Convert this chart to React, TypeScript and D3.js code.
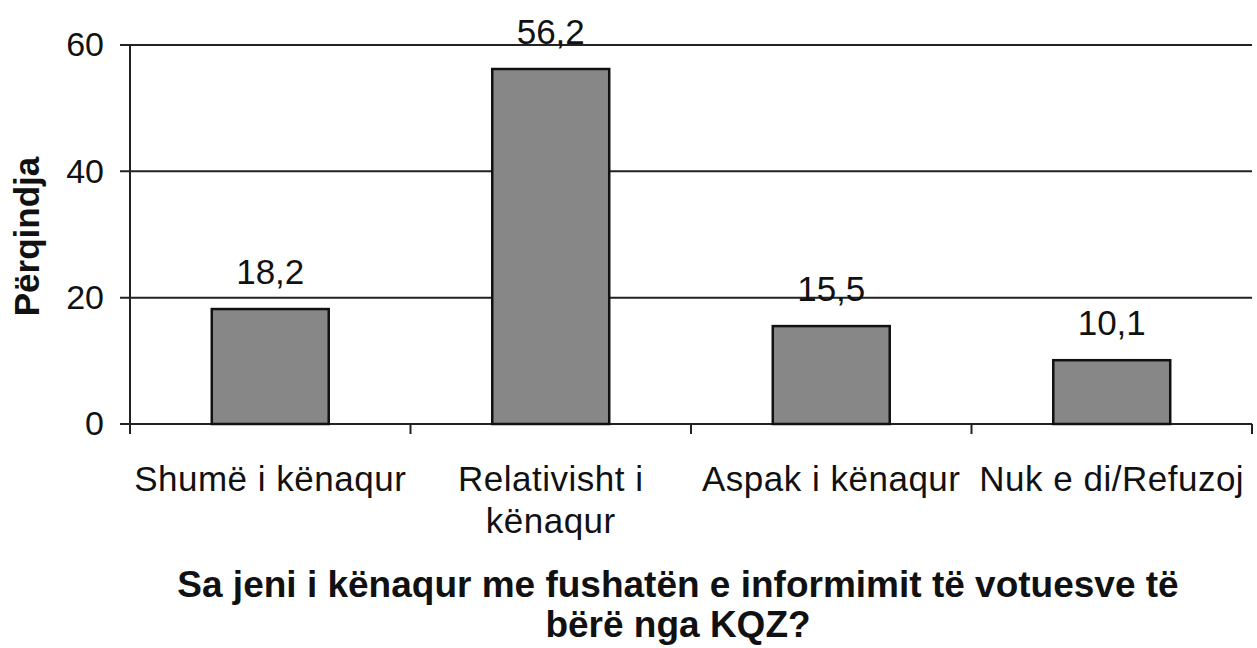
import React, { useEffect, useRef } from 'react';
import * as d3 from 'd3';

const categories = [
  ['Shumë i kënaqur'],
  ['Relativisht i', 'kënaqur'],
  ['Aspak i kënaqur'],
  ['Nuk e di/Refuzoj'],
];
const values = [18.2, 56.2, 15.5, 10.1];
const valueLabels = ['18,2', '56,2', '15,5', '10,1'];
const yTicks = [0, 20, 40, 60];
const yTitle = 'Përqindja';
const xTitle = ['Sa jeni i kënaqur me fushatën e informimit të votuesve të', 'bërë nga KQZ?'];

const FONT = '"Liberation Sans", Arial, sans-serif';

const App = () => {
  const ref = useRef<SVGSVGElement>(null);

  useEffect(() => {
    if (!ref.current) return;
    const width = 1257, height = 648;
    const left = 130, right = 1252, top = 45, bottom = 424;

    const svg = d3.select(ref.current);
    svg.selectAll('*').remove();
    svg.attr('width', width).attr('height', height);

    svg.append('rect').attr('width', width).attr('height', height).attr('fill', '#fff');

    const keys = categories.map((_, i) => String(i));
    const x = d3.scaleBand<string>()
      .domain(keys)
      .range([left, right])
      .paddingInner(0.583)
      .paddingOuter(0.2915);

    const y = d3.scaleLinear().domain([0, 60]).range([bottom, top]);

    // gridlines + y ticks
    svg.append('g')
      .selectAll('line')
      .data(yTicks)
      .enter().append('line')
      .attr('x1', left - 10)
      .attr('x2', right)
      .attr('y1', d => y(d))
      .attr('y2', d => y(d))
      .attr('stroke', '#222')
      .attr('stroke-width', 2);

    svg.append('g')
      .selectAll('text')
      .data(yTicks)
      .enter().append('text')
      .attr('x', left - 26)
      .attr('y', d => y(d))
      .attr('dy', '0.33em')
      .attr('text-anchor', 'end')
      .style('font-family', FONT)
      .style('font-size', '34px')
      .attr('fill', '#111')
      .text(d => d);

    // y axis line
    svg.append('line')
      .attr('x1', left).attr('x2', left)
      .attr('y1', top).attr('y2', bottom + 10)
      .attr('stroke', '#222').attr('stroke-width', 2);

    // category boundary ticks
    const step = x.step();
    const bounds = keys.map(k => (x(k) as number) + x.bandwidth() / 2 - step / 2);
    bounds.push(bounds[bounds.length - 1] + step);
    svg.append('g')
      .selectAll('line')
      .data(bounds)
      .enter().append('line')
      .attr('x1', d => d).attr('x2', d => d)
      .attr('y1', bottom).attr('y2', bottom + 10)
      .attr('stroke', '#222').attr('stroke-width', 2);

    // bars
    svg.append('g')
      .selectAll('rect')
      .data(values)
      .enter().append('rect')
      .attr('x', (_, i) => x(keys[i]) as number)
      .attr('y', d => y(d))
      .attr('width', x.bandwidth())
      .attr('height', d => bottom - y(d))
      .attr('fill', '#878787')
      .attr('stroke', '#111')
      .attr('stroke-width', 2.5);

    // value labels
    svg.append('g')
      .selectAll('text')
      .data(values)
      .enter().append('text')
      .attr('x', (_, i) => (x(keys[i]) as number) + x.bandwidth() / 2)
      .attr('y', d => y(d) - 25)
      .attr('text-anchor', 'middle')
      .style('font-family', FONT)
      .style('font-size', '35px')
      .attr('fill', '#111')
      .text((_, i) => valueLabels[i]);

    // category labels
    const cat = svg.append('g')
      .selectAll('text')
      .data(categories)
      .enter().append('text')
      .attr('x', (_, i) => (x(keys[i]) as number) + x.bandwidth() / 2)
      .attr('y', 491)
      .attr('text-anchor', 'middle')
      .style('font-family', FONT)
      .style('font-size', '35px')
      .style('letter-spacing', '0.5px')
      .attr('fill', '#111');
    cat.selectAll('tspan')
      .data(d => d)
      .enter().append('tspan')
      .attr('x', function () { return (this.parentNode as SVGTextElement).getAttribute('x'); })
      .attr('dy', (_, j) => (j === 0 ? 0 : 42))
      .text(d => d);

    // y title
    svg.append('text')
      .attr('transform', `translate(39, ${(155 + 318) / 2}) rotate(-90)`)
      .attr('text-anchor', 'middle')
      .style('font-family', FONT)
      .style('font-size', '35px')
      .style('font-weight', 'bold')
      .attr('fill', '#111')
      .text(yTitle);

    // x title
    svg.append('text')
      .attr('x', 678)
      .attr('y', 597)
      .attr('text-anchor', 'middle')
      .style('font-family', FONT)
      .style('font-size', '37px')
      .style('font-weight', 'bold')
      .attr('fill', '#111')
      .selectAll('tspan')
      .data(xTitle)
      .enter().append('tspan')
      .attr('x', 678)
      .attr('dy', (_, j) => (j === 0 ? 0 : 40))
      .text(d => d);
  }, []);

  return <svg ref={ref} style={{ position: 'absolute', left: 0, top: 0, display: 'block' }} />;
};

export default App;
